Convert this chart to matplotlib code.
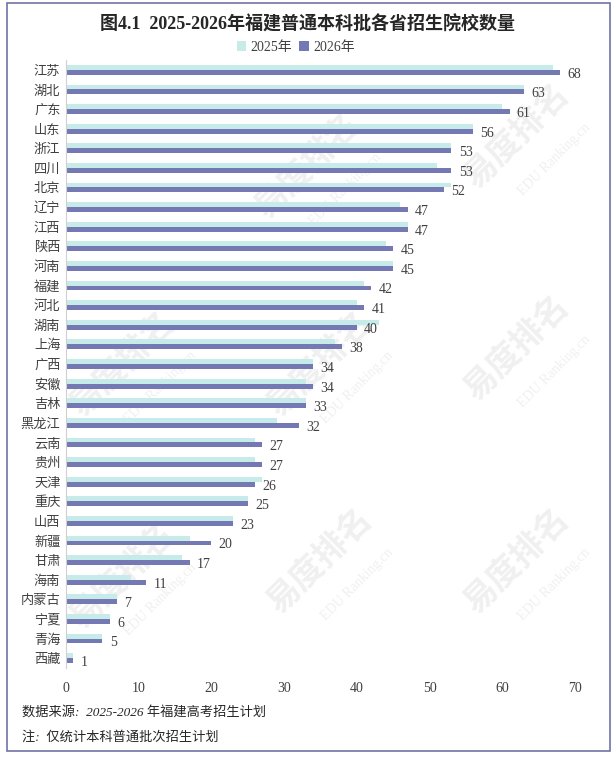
import matplotlib.pyplot as plt
import numpy as np

plt.rcParams['font.family'] = ['Liberation Serif', 'Noto Sans CJK SC', 'DejaVu Sans']

# 省份（从上到下）
provinces = ['江苏', '湖北', '广东', '山东', '浙江', '四川', '北京', '辽宁', '江西', '陕西',
             '河南', '福建', '河北', '湖南', '上海', '广西', '安徽', '吉林', '黑龙江', '云南',
             '贵州', '天津', '重庆', '山西', '新疆', '甘肃', '海南', '内蒙古', '宁夏', '青海', '西藏']
v2025 = [67, 63, 60, 56, 53, 51, 53, 46, 47, 44,
         45, 41, 40, 43, 37, 34, 33, 33, 29, 26,
         26, 27, 25, 23, 17, 16, 9, 7, 6, 5, 1]
v2026 = [68, 63, 61, 56, 53, 53, 52, 47, 47, 45,
         45, 42, 41, 40, 38, 34, 34, 33, 32, 27,
         27, 26, 25, 23, 20, 17, 11, 7, 6, 5, 1]
xticks = [0, 10, 20, 30, 40, 50, 60, 70]

c25 = '#C6EBE9'
c26 = '#7479B3'

fig = plt.figure(figsize=(6.16, 7.59), dpi=100)

# 外框
fig.patches.append(plt.Rectangle((7 / 616, 8 / 759), 603 / 616, 748 / 759, transform=fig.transFigure,
                                 fill=False, edgecolor='#7272A8', linewidth=1.2))

# 水印（放在图表下面，颜色很浅）
wm_pos = [(0.50, 0.78), (0.84, 0.82), (0.20, 0.52), (0.52, 0.52), (0.84, 0.54),
          (0.20, 0.24), (0.52, 0.26), (0.84, 0.26)]
for wx, wy in wm_pos:
    fig.text(wx, wy, '易度排名', rotation=45, fontsize=24, color='#F0F0F0', fontweight='bold',
             ha='center', va='center', zorder=0, family=['Noto Sans CJK SC'])
    fig.text(wx + 0.06, wy - 0.03, 'EDU Ranking.cn', rotation=45, fontsize=10, color='#F0F0F0',
             ha='center', va='center', zorder=0)

ax = fig.add_axes([66 / 616, 1 - 668 / 759, 509 / 616, 608 / 759])
ax.patch.set_alpha(0)
ax.set_zorder(2)

y = np.arange(len(provinces))
h = 0.25
ax.barh(y - h / 2, v2025, height=h, color=c25, label='2025年')
ax.barh(y + h / 2, v2026, height=h, color=c26, label='2026年')

for yi, v in zip(y, v2026):
    ax.text(v + 1.0, yi + h / 2 + 0.1, str(v), va='center', ha='left', fontsize=10, color='#404040')

ax.set_ylim(len(provinces) - 0.5, -0.5)
ax.set_xlim(0, 70)
ax.set_yticks(y)
ax.set_yticklabels(provinces, fontsize=9.5, family=['Noto Sans CJK SC'])
ax.set_xticks(xticks)
ax.set_xticklabels([str(t) for t in xticks], fontsize=10)
ax.tick_params(axis='both', length=0, colors='#404040')
ax.tick_params(axis='x', pad=10)
ax.tick_params(axis='y', pad=4)
for s in ['top', 'right', 'bottom']:
    ax.spines[s].set_visible(False)
ax.spines['left'].set_color('#D0D0D0')

fig.text(0.5, 1 - 25 / 759, '图4.1  2025-2026年福建普通本科批各省招生院校数量', ha='center', va='center',
         fontsize=13, fontweight='bold', color='#262626')

leg = fig.legend(loc='center', bbox_to_anchor=(0.48, 1 - 47 / 759), ncol=2, frameon=False,
                 fontsize=10, handlelength=0.7, handleheight=0.7, handletextpad=0.3, columnspacing=0.5)
for t in leg.get_texts():
    t.set_color('#404040')

fig.text(22 / 616, 1 - 712 / 759, '数据来源:  2025-2026 年福建高考招生计划', fontsize=9.5, style='italic',
         va='center', color='#262626')
fig.text(22 / 616, 1 - 737 / 759, '注:  仅统计本科普通批次招生计划', fontsize=9.5, style='italic',
         va='center', color='#262626')

fig.savefig('out.png', dpi=100)
